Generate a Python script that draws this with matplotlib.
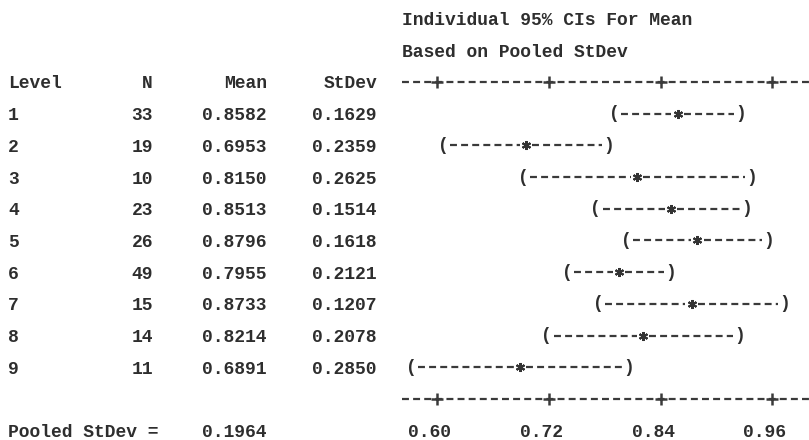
import numpy as np
import matplotlib.pyplot as plt

# one-way ANOVA summary (Minitab style text output)
levels = ["1", "2", "3", "4", "5", "6", "7", "8", "9"]
n_obs = [33, 19, 10, 23, 26, 49, 15, 14, 11]
means = [0.8582, 0.6953, 0.8150, 0.8513, 0.8796, 0.7955, 0.8733, 0.8214, 0.6891]
stdevs = [0.1629, 0.2359, 0.2625, 0.1514, 0.1618, 0.2121, 0.1207, 0.2078, 0.2850]
pooled_sd = 0.1964
t_crit = 1.9725  # df = 191
ticks = [0.60, 0.72, 0.84, 0.96]

plt.rcParams['font.family'] = ['Liberation Mono', 'DejaVu Sans Mono']
txt_col = '#2e2e2e'
fs = 13

W, H = 809, 440
fig = plt.figure(figsize=(W / 100, H / 100), dpi=100)

# line index -> pixel rows, 14 text lines
y0, dy = 18.5, 31.7
top_k = -y0 / dy
bot_k = (H - y0) / dy

tbl = fig.add_axes([0, 0, 1, 1])
tbl.set_xlim(0, W)
tbl.set_ylim(bot_k, top_k)
tbl.axis('off')

def put(x, k, s, ha='left'):
    tbl.text(x, k, s, ha=ha, va='center_baseline', fontsize=fs,
             fontweight='bold', color=txt_col)

put(402, 0, "Individual 95% CIs For Mean")
put(402, 1, "Based on Pooled StDev")
put(8, 2, "Level")
put(153, 2, "N", 'right')
put(267, 2, "Mean", 'right')
put(377, 2, "StDev", 'right')
for i in range(len(levels)):
    k = 3 + i
    put(8, k, levels[i])
    put(153, k, str(n_obs[i]), 'right')
    put(267, k, f"{means[i]:.4f}", 'right')
    put(377, k, f"{stdevs[i]:.4f}", 'right')
put(8, 13, "Pooled StDev =")
put(267, 13, f"{pooled_sd:.4f}", 'right')

# CI panel in data units
x0_px, x1_px = 402, 809
px_per = 111.8 / 0.12
xmin = 0.60 - (437 - x0_px) / px_per
xmax = 0.60 + (x1_px - 437) / px_per
ax = fig.add_axes([x0_px / W, 0, (x1_px - x0_px) / W, 1])
ax.set_xlim(xmin, xmax)
ax.set_ylim(bot_k, top_k)
ax.axis('off')

ch = 0.012  # one character cell in data units
lw = 1.6
dash_kw = dict(color='#3a3a3a', lw=lw, dashes=(5.0 / lw, 3.0 / lw),
               dash_capstyle='butt')

for k in (2, 12):
    ax.plot([xmin, xmax], [k, k], **dash_kw)
    ax.plot(ticks, [k] * len(ticks), ls='none', marker='+', ms=8, mew=1.8,
            color='#3a3a3a')
for t in ticks:
    ax.text(t - 0.008, 13, f"{t:.2f}", ha='center', va='center_baseline',
            fontsize=fs, fontweight='bold', color=txt_col)

for i in range(len(levels)):
    k = 3 + i
    half = t_crit * pooled_sd / np.sqrt(n_obs[i])
    lo, hi, m = means[i] - half, means[i] + half, means[i]
    ax.plot([lo + 0.6 * ch, m - 0.55 * ch], [k, k], **dash_kw)
    ax.plot([m + 0.55 * ch, hi - 0.6 * ch], [k, k], **dash_kw)
    ax.plot([m], [k], ls='none', marker=(6, 2, 0), ms=6.5, mew=1.5,
            color='#333333')
    ax.text(lo, k, "(", ha='center', va='center', fontsize=fs,
            fontweight='bold', color=txt_col)
    ax.text(hi, k, ")", ha='center', va='center', fontsize=fs,
            fontweight='bold', color=txt_col)

fig.savefig('out.png', dpi=100, facecolor='white')
